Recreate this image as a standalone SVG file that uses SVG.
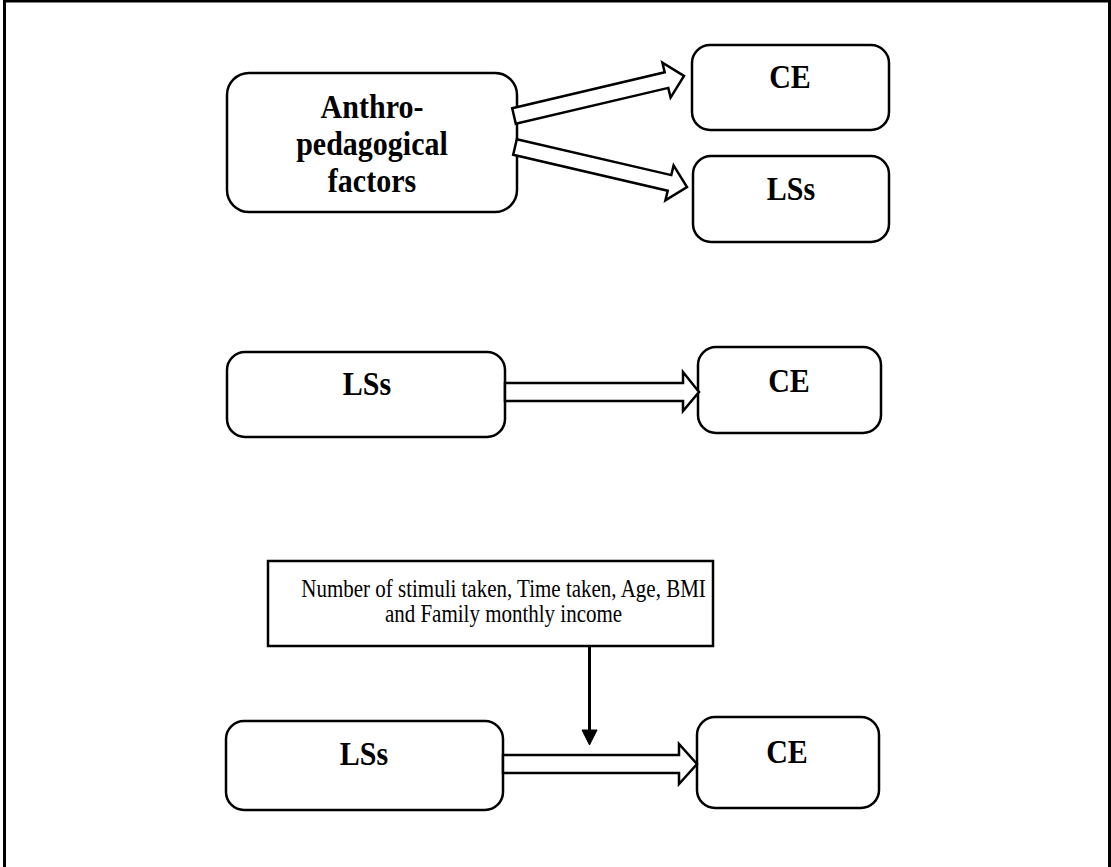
<svg xmlns="http://www.w3.org/2000/svg" width="1111" height="867" viewBox="0 0 1111 867">
  <style>
    .box { fill: #fff; stroke: #000; stroke-width: 2.5; }
    .arrow { fill: #fff; stroke: #000; stroke-width: 2.5; stroke-linejoin: miter; }
    .lbl { font-family: "Liberation Serif", "Times New Roman", serif; font-weight: bold; font-size: 30px; fill: #000; text-anchor: middle; }
    .txt { font-family: "Liberation Serif", "Times New Roman", serif; font-size: 21px; fill: #000; text-anchor: middle; }
  </style>
  <rect x="0" y="0" width="1111" height="867" fill="#fff"/>
  <!-- frame -->
  <rect x="4.5" y="1" width="1105" height="900" fill="none" stroke="#000" stroke-width="3"/>

  <!-- panel 1 -->
  <g id="node-anthro">
    <rect class="box" x="227" y="73" width="290" height="139" rx="22"/>
    <text class="lbl" transform="translate(372,118) scale(1,1.12)">Anthro-</text>
    <text class="lbl" transform="translate(372,155) scale(1,1.12)">pedagogical</text>
    <text class="lbl" transform="translate(372,192) scale(1,1.12)">factors</text>
  </g>
  <g id="node-ce-1">
    <rect class="box" x="692" y="45" width="197" height="85" rx="18"/>
    <text class="lbl" transform="translate(790,88) scale(1,1.12)">CE</text>
  </g>
  <g id="node-lss-1">
    <rect class="box" x="693" y="156" width="196" height="86" rx="18"/>
    <text class="lbl" transform="translate(791,200) scale(1,1.12)">LSs</text>
  </g>

  <!-- panel 2 -->
  <g id="node-lss-2">
    <rect class="box" x="227" y="352" width="278" height="85" rx="18"/>
    <text class="lbl" transform="translate(367,395) scale(1,1.12)">LSs</text>
  </g>
  <g id="node-ce-2">
    <rect class="box" x="698" y="347" width="183" height="86" rx="18"/>
    <text class="lbl" transform="translate(789,392) scale(1,1.12)">CE</text>
  </g>

  <!-- panel 3 -->
  <g id="node-moderators">
    <rect class="box" x="268" y="561" width="445" height="85"/>
    <text class="txt" transform="translate(503.5,597) scale(1,1.18)">Number of stimuli taken, Time taken, Age, BMI</text>
    <text class="txt" transform="translate(503.5,622) scale(1,1.18)">and Family monthly income</text>
  </g>
  <g id="node-lss-3">
    <rect class="box" x="226" y="721" width="277" height="89" rx="18"/>
    <text class="lbl" transform="translate(364,765) scale(1,1.12)">LSs</text>
  </g>
  <g id="node-ce-3">
    <rect class="box" x="697" y="717" width="182" height="91" rx="18"/>
    <text class="lbl" transform="translate(787,763) scale(1,1.12)">CE</text>
  </g>

  <!-- connectors -->
  <g id="connectors">
    <polygon class="arrow" points="512.2,108.2 664.7,72.3 662.4,62.6 684,76 670.6,97.6 668.3,87.9 515.8,123.8"/>
    <polygon class="arrow" points="516.8,139.2 671.3,175.1 673.6,165.4 687,187 665.4,200.4 667.7,190.7 513.2,154.8"/>
    <polygon class="arrow" points="505,383 683,383 683,372 699,392 683,411 683,401 505,401"/>
    <polygon class="arrow" points="503,755 679,755 679,744 697,764 679,784 679,773 503,773"/>
    <line x1="589.5" y1="646" x2="589.5" y2="732" stroke="#000" stroke-width="3"/>
    <polygon points="582,730 597,730 589.5,745" fill="#000" stroke="#000" stroke-width="1"/>
  </g>
</svg>
